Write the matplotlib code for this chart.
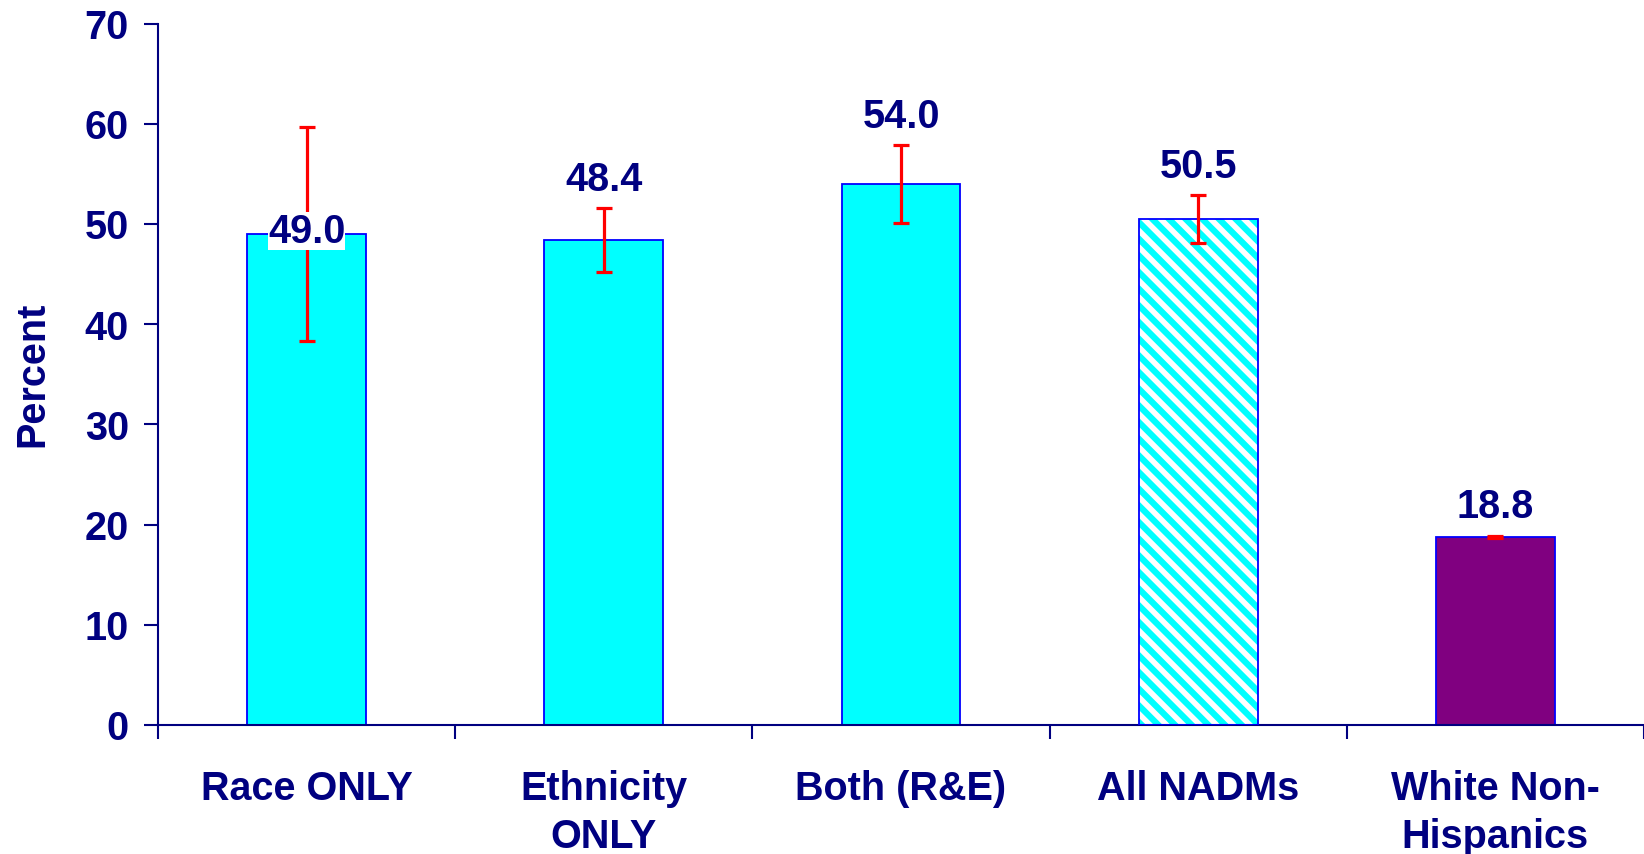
import numpy as np
import matplotlib
matplotlib.use('Agg')
from matplotlib import pyplot as plt

categories = ['Race ONLY', 'Ethnicity\nONLY', 'Both (R&E)', 'All NADMs', 'White Non-\nHispanics']
values = [49.0, 48.4, 54.0, 50.5, 18.8]
errors = [10.65, 3.2, 3.9, 2.4, 0.1]
y_ticks = [0, 10, 20, 30, 40, 50, 60, 70]

NAVY = '#000080'
plt.rcParams['font.family'] = ['Liberation Sans', 'DejaVu Sans']
plt.rcParams['font.weight'] = 'bold'
plt.rcParams['hatch.linewidth'] = 4.5

fig = plt.figure(figsize=(16.44, 8.545), dpi=100)
ax = fig.add_axes([158 / 1644, 129 / 854, 1 - 158 / 1644, (725 - 24) / 854])

x = np.arange(len(categories))
face = ['#00FFFF', '#00FFFF', '#00FFFF', 'white', '#800080']
FS = 28.5

for i in range(len(x)):
    if i == 3:
        # hatched bar: cyan stripes on white, then blue outline on top
        ax.bar(x[i], values[i], width=0.4, color='white', edgecolor='#00FFFF',
               hatch='\\\\', linewidth=0, zorder=2)
        ax.bar(x[i], values[i], width=0.4, fill=False, edgecolor='#0000FF',
               linewidth=1.3, zorder=3)
    else:
        ax.bar(x[i], values[i], width=0.4, color=face[i], edgecolor='#0000FF',
               linewidth=1.3, zorder=2)

ax.errorbar(x, values, yerr=errors, fmt='none', ecolor='red', elinewidth=2.3,
            capsize=6, capthick=2.3, zorder=4)

for i in range(len(x)):
    if i == 0:
        ax.text(x[i], values[i] + 0.25, f'{values[i]:.1f}', ha='center', va='center',
                fontsize=FS, color=NAVY, fontweight='bold', zorder=5,
                bbox=dict(facecolor='white', edgecolor='none', pad=0))
    else:
        ax.annotate(f'{values[i]:.1f}', (x[i], values[i] + errors[i]),
                    xytext=(0, 7), textcoords='offset points', ha='center',
                    va='bottom', fontsize=FS, color=NAVY, fontweight='bold', zorder=5)

ax.set_ylim(0, 70)
ax.set_xlim(-0.5, 4.5 - 8 / 298.8)
ax.set_yticks(y_ticks)
ax.set_xticks(np.arange(len(categories) + 1) - 0.5)
ax.set_xticklabels([])
ax.set_xticks(x, minor=True)
ax.set_xticklabels(categories, minor=True, fontsize=FS, color=NAVY,
                   fontweight='bold', linespacing=1.33)
ax.tick_params(axis='x', which='major', length=10, width=1.5, color=NAVY, direction='out')
ax.tick_params(axis='x', which='minor', length=0, pad=32)
ax.tick_params(axis='y', length=10, width=1.5, color=NAVY, pad=11, labelsize=FS,
               labelcolor=NAVY)
for lab in ax.get_yticklabels():
    lab.set_fontweight('bold')

ax.set_ylabel('Percent', fontsize=FS, color=NAVY, fontweight='bold', labelpad=24)

for s in ['top', 'right']:
    ax.spines[s].set_visible(False)
for s in ['left', 'bottom']:
    ax.spines[s].set_color(NAVY)
    ax.spines[s].set_linewidth(1.5)

fig.savefig('out.png', dpi=100)
